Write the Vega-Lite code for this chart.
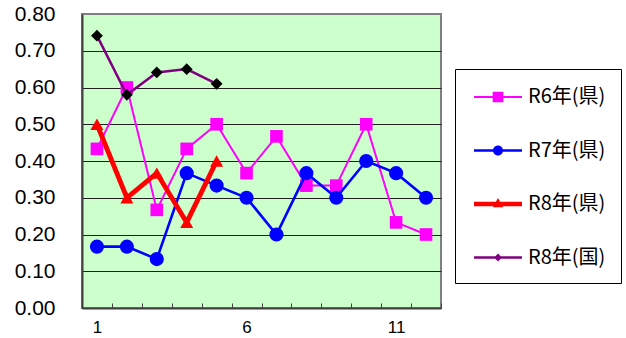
{
  "$schema": "https://vega.github.io/schema/vega-lite/v6.json",
  "width": 359,
  "height": 294,
  "autosize": "none",
  "padding": {"left": 82, "top": 14, "right": 185, "bottom": 30},
  "background": "white",
  "config": {"view": {"fill": "#CCFFCC", "stroke": "#808080", "strokeWidth": 2}},
  "data": {"values": [
    {"s": "R6年(県)", "x": 1, "y": 0.433}, {"s": "R6年(県)", "x": 2, "y": 0.6}, {"s": "R6年(県)", "x": 3, "y": 0.267}, {"s": "R6年(県)", "x": 4, "y": 0.433}, {"s": "R6年(県)", "x": 5, "y": 0.5}, {"s": "R6年(県)", "x": 6, "y": 0.367}, {"s": "R6年(県)", "x": 7, "y": 0.467}, {"s": "R6年(県)", "x": 8, "y": 0.333}, {"s": "R6年(県)", "x": 9, "y": 0.333}, {"s": "R6年(県)", "x": 10, "y": 0.5}, {"s": "R6年(県)", "x": 11, "y": 0.233}, {"s": "R6年(県)", "x": 12, "y": 0.2},
    {"s": "R7年(県)", "x": 1, "y": 0.167}, {"s": "R7年(県)", "x": 2, "y": 0.167}, {"s": "R7年(県)", "x": 3, "y": 0.133}, {"s": "R7年(県)", "x": 4, "y": 0.367}, {"s": "R7年(県)", "x": 5, "y": 0.333}, {"s": "R7年(県)", "x": 6, "y": 0.3}, {"s": "R7年(県)", "x": 7, "y": 0.2}, {"s": "R7年(県)", "x": 8, "y": 0.367}, {"s": "R7年(県)", "x": 9, "y": 0.3}, {"s": "R7年(県)", "x": 10, "y": 0.4}, {"s": "R7年(県)", "x": 11, "y": 0.367}, {"s": "R7年(県)", "x": 12, "y": 0.3},
    {"s": "R8年(県)", "x": 1, "y": 0.5}, {"s": "R8年(県)", "x": 2, "y": 0.3}, {"s": "R8年(県)", "x": 3, "y": 0.367}, {"s": "R8年(県)", "x": 4, "y": 0.233}, {"s": "R8年(県)", "x": 5, "y": 0.4},
    {"s": "R8年(国)", "x": 1, "y": 0.741}, {"s": "R8年(国)", "x": 2, "y": 0.58}, {"s": "R8年(国)", "x": 3, "y": 0.641}, {"s": "R8年(国)", "x": 4, "y": 0.65}, {"s": "R8年(国)", "x": 5, "y": 0.61}
  ]},
  "encoding": {
    "x": {
      "field": "x", "type": "quantitative",
      "scale": {"domain": [0.5, 12.5], "nice": false, "zero": false},
      "axis": {
        "title": null,
        "values": [0.5, 1.5, 2.5, 3.5, 4.5, 5.5, 6.5, 7.5, 8.5, 9.5, 10.5, 11.5, 12.5],
        "labelExpr": "datum.value == 0.5 ? '1' : datum.value == 5.5 ? '6' : datum.value == 10.5 ? '11' : ''",
        "labelOffset": 15,
        "labelFlush": false,
        "labelOverlap": false,
        "grid": false,
        "ticks": true,
        "tickSize": -5,
        "tickColor": "#404040",
        "domainColor": "#404040",
        "domainWidth": 2,
        "labelFont": "Liberation Sans",
        "labelFontSize": 17,
        "labelColor": "#000000",
        "labelPadding": 16
      }
    },
    "y": {
      "field": "y", "type": "quantitative",
      "scale": {"domain": [0, 0.8], "nice": false},
      "axis": {
        "title": null,
        "values": [0, 0.1, 0.2, 0.3, 0.4, 0.5, 0.6, 0.7, 0.8],
        "format": ".2f",
        "grid": true,
        "gridColor": {"condition": {"test": "datum.value >= 0.79", "value": "#808080"}, "value": "#202020"},
        "gridWidth": 1,
        "ticks": false,
        "domainColor": "#404040",
        "domainWidth": 2,
        "labelFont": "Liberation Sans",
        "labelFontSize": 21,
        "labelColor": "#000000",
        "labelPadding": 27
      }
    },
    "color": {
      "field": "s", "type": "nominal",
      "scale": {"domain": ["R6年(県)", "R7年(県)", "R8年(県)", "R8年(国)"], "range": ["#FF00FF", "#0000FF", "#FF0000", "#800080"]},
      "legend": {
        "title": null,
        "orient": "none",
        "legendX": 373,
        "legendY": 55,
        "padding": 15,
        "strokeColor": "#000000",
        "fillColor": "#FFFFFF",
        "rowPadding": 30.5,
        "symbolSize": 676,
        "symbolStrokeWidth": 0,
        "symbolOffset": 15,
        "labelOffset": 17,
        "labelFont": "Noto Sans CJK JP",
        "labelFontSize": 20,
        "labelColor": "#000000",
        "labelLimit": 200,
        "encode": {
          "symbols": {
            "update": {
              "shape": {"signal": "datum.value === 'R6年(県)' ? 'M-1.846,-0.077H1.846V0.077H-1.846Z M-0.41,-0.41H0.41V0.41H-0.41Z' : datum.value === 'R7年(県)' ? 'M-1.846,-0.1H1.846V0.1H-1.846Z M-0.385,0A0.385,0.385,0,1,1,0.385,0A0.385,0.385,0,1,1,-0.385,0Z' : datum.value === 'R8年(県)' ? 'M-1.846,-0.173H1.846V0.173H-1.846Z M0,-0.46L0.4,0.25L-0.4,0.25Z' : 'M-1.846,-0.1H1.846V0.1H-1.846Z M0,-0.3L0.3,0L0,0.3L-0.3,0Z'"},
              "fill": {"scale": "color", "field": "value"},
              "strokeWidth": {"value": 0},
              "opacity": {"value": 1}
            }
          }
        }
      }
    }
  },
  "layer": [
    {"transform": [{"filter": "datum.s === 'R6年(県)'"}], "mark": {"type": "line", "strokeWidth": 2}},
    {"transform": [{"filter": "datum.s === 'R6年(県)'"}], "mark": {"type": "point", "shape": "square", "filled": true, "size": 160, "opacity": 1}, "encoding": {"color": {"value": "#FF00FF"}}},
    {"transform": [{"filter": "datum.s === 'R7年(県)'"}], "mark": {"type": "line", "strokeWidth": 2.6}},
    {"transform": [{"filter": "datum.s === 'R7年(県)'"}], "mark": {"type": "point", "shape": "circle", "filled": true, "size": 200, "opacity": 1}, "encoding": {"color": {"value": "#0000FF"}}},
    {"transform": [{"filter": "datum.s === 'R8年(県)'"}], "mark": {"type": "line", "strokeWidth": 4.8}},
    {"transform": [{"filter": "datum.s === 'R8年(県)'"}], "mark": {"type": "point", "shape": "triangle-up", "filled": true, "size": 169, "opacity": 1}, "encoding": {"color": {"value": "#FF0000"}}},
    {"transform": [{"filter": "datum.s === 'R8年(国)'"}], "mark": {"type": "line", "strokeWidth": 2.5}},
    {"transform": [{"filter": "datum.s === 'R8年(国)'"}], "mark": {"type": "point", "shape": "diamond", "filled": true, "size": 140, "opacity": 1}, "encoding": {"color": {"value": "#000000"}}}
  ]
}
